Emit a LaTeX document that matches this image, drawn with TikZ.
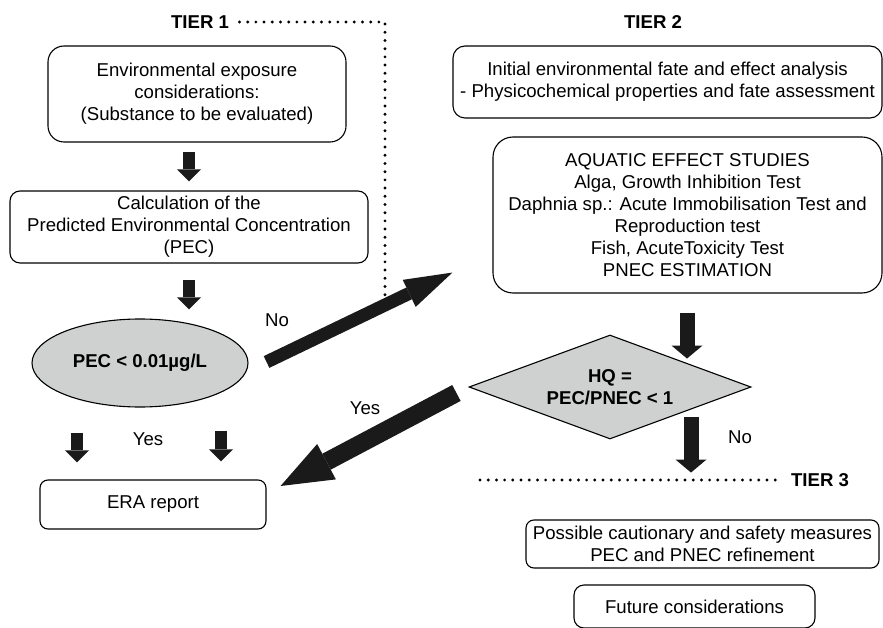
\documentclass[tikz,border=0pt]{standalone}
\usepackage{fontspec}
\setmainfont{Liberation Sans}
\usetikzlibrary{arrows.meta,shapes.geometric,calc}
\definecolor{testgray}{RGB}{207,208,208}
\definecolor{arrowblack}{RGB}{26,26,26}

\begin{document}
\begin{tikzpicture}[x=1pt, y=-1pt,
  every node/.style={font=\fontsize{18.6pt}{22pt}\selectfont, align=center},
  bold/.style={font=\fontsize{18.6pt}{22pt}\selectfont\bfseries},
  box/.style={draw, line width=1.1pt, rounded corners=#1, inner sep=0pt},
  box/.default=10pt,
  tierline/.style={line width=3.2pt, dash pattern=on 0pt off 8.2pt, line cap=round},
  flowarrow/.style={arrowblack, line width=12pt, -{Triangle[length=12pt, width=24pt, line width=0pt]}},
  hqarrow/.style={arrowblack, line width=15pt, -{Triangle[length=13pt, width=31pt, line width=0pt]}}]
\useasboundingbox (0,0) rectangle (883,628);

% Tier 1
\node[bold] (tierone) at (200,22) {TIER 1};
\node[box=16pt, minimum width=298, minimum height=96] (exposure) at (197,94)
  {Environmental exposure\\considerations:\\(Substance to be evaluated)};
\node[box=10pt, minimum width=358, minimum height=72] (calcpec) at (189,227)
  {Calculation of the\\Predicted Environmental Concentration\\(PEC)};
\node[ellipse, draw, line width=1.1pt, fill=testgray, inner sep=0pt,
  minimum width=216, minimum height=88, bold] (pec) at (140,363) {PEC < 0.01µg/L};
\node[box=8pt, minimum width=226, minimum height=49] (era) at (153,504.5) {ERA report};
\node (yesera) at (148,439) {Yes};

\draw[flowarrow, shorten <=9pt, shorten >=9pt] (exposure.south -| calcpec.north) -- (calcpec.north);
\draw[flowarrow, shorten <=16pt, shorten >=9pt] (calcpec.south) -- (calcpec.south |- pec.north);
\draw[flowarrow, shorten <=25pt, shorten >=17pt] ([xshift=-76pt]era.north |- pec.south) -- ([xshift=-76pt]era.north);
\draw[flowarrow, shorten <=23pt, shorten >=18pt] ([xshift=68pt]era.north |- pec.south) -- ([xshift=68pt]era.north);

% Tier 2
\node[bold] (tiertwo) at (653,22) {TIER 2};
\node[box=12pt, minimum width=429, minimum height=72] (fate) at (667.5,82)
  {Initial environmental fate and effect analysis\\- Physicochemical properties and fate assessment};
\node[box=20pt, minimum width=389, minimum height=156] (aquatic) at (687.5,215)
  {AQUATIC EFFECT STUDIES\\Alga, Growth Inhibition Test\\Daphnia sp.: Acute Immobilisation Test and\\Reproduction test\\Fish, AcuteToxicity Test\\PNEC ESTIMATION};
\node[diamond, draw, line width=1.1pt, fill=testgray, aspect=2.71, inner sep=1pt,
  minimum width=282, minimum height=104, bold, align=center] (hq) at (610,387) {HQ =\\PEC/PNEC < 1};

\draw[hqarrow] ([xshift=77pt]hq.north |- aquatic.south) ++(0,19) -- ++(0,46);
\draw[hqarrow] ([xshift=81pt]hq.south) ++(0,-23) -- ++(0,56);

% No / Yes branches
\coordinate (notail) at ($(pec.east)+(18,-1)$);
\coordinate (notip) at ($(aquatic.south west)+(-40,-21)$);
\draw[arrowblack, line width=13pt, -{Triangle[length=48pt, width=30pt, line width=0pt]}] (notail) -- (notip);
\node (nolabel) at (277,320) {No};

\coordinate (yestail) at ($(hq.west)+(-12,6)$);
\coordinate (yestip) at ($(era.east)+(14,-18.5)$);
\draw[arrowblack, line width=18pt, -{Triangle[length=52pt, width=40pt, line width=0pt]}] (yestail) -- (yestip);
\node (yeslabel) at (365,408) {Yes};
\node (nohq) at (740,437) {No};

% Tier boundaries
\coordinate (tierend) at (385,295);
\draw[tierline] ([xshift=7pt]tierone.east) -| (tierend);
\node[bold] (tierthree) at (820,480) {TIER 3};
\coordinate (tierstart) at (480,480);
\draw[tierline] (tierstart) -- ([xshift=-8pt]tierthree.west);

% Tier 3
\node[box=8pt, minimum width=353, minimum height=48] (measures) at (702.5,544)
  {Possible cautionary and safety measures\\PEC and PNEC refinement};
\node[box=10pt, minimum width=241, minimum height=43] (future) at (694.5,606.5) {Future considerations};
\end{tikzpicture}
\end{document}
